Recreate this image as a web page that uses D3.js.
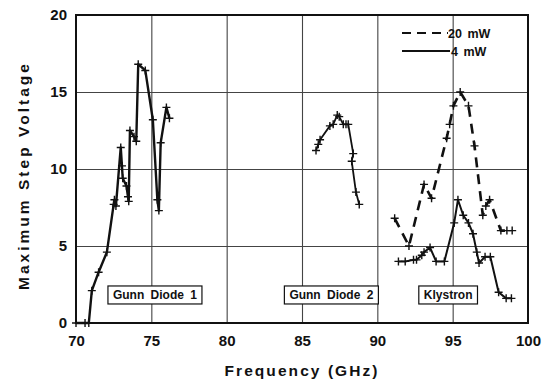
<!DOCTYPE html>
<html>
<head>
<meta charset="utf-8">
<script src="https://cdn.jsdelivr.net/npm/d3@7"></script>
<style>
  body { margin: 0; background: #fff; }
  text { font-family: "Liberation Sans", Arial, sans-serif; fill: #111; }
</style>
</head>
<body>
<svg id="chart"></svg>
<script>
// frequency (GHz), maximum step voltage
const gunn1 = [
  [70.0, 0], [70.6, 0], [70.85, 0], [71.05, 2.1], [71.5, 3.3], [72.05, 4.6],
  [72.5, 7.7], [72.55, 8.0], [72.65, 7.6], [72.97, 11.4], [73.05, 10.2], [73.1, 9.4],
  [73.35, 8.9], [73.45, 8.2], [73.5, 7.9], [73.58, 12.5], [73.85, 12.1], [74.0, 11.8],
  [74.13, 16.8], [74.6, 16.4], [75.1, 13.2], [75.4, 8.0], [75.5, 7.3], [75.62, 11.7],
  [76.0, 14.0], [76.2, 13.3]
];
const gunn2 = [
  [85.93, 11.2], [86.08, 11.6], [86.2, 11.9], [86.85, 12.8], [87.07, 12.9], [87.34, 13.5],
  [87.47, 13.4], [87.74, 12.9], [87.92, 12.9], [88.07, 12.9], [88.4, 11.0], [88.3, 10.5],
  [88.58, 8.5], [88.8, 7.7]
];
const klystron20 = [
  [91.15, 6.8], [92.1, 5.0], [93.1, 9.0], [93.6, 8.1], [94.6, 12.0], [94.8, 12.9],
  [95.05, 14.1], [95.5, 15.0], [96.05, 14.1], [96.45, 11.5], [97.0, 7.0], [97.2, 7.6],
  [97.45, 8.0], [98.2, 6.0], [98.6, 6.0], [98.95, 6.0]
];
const klystron4 = [
  [91.4, 4.0], [91.85, 4.0], [92.4, 4.1], [92.6, 4.1], [92.95, 4.4], [93.1, 4.6],
  [93.5, 4.9], [93.9, 4.0], [94.45, 4.0], [95.1, 6.5], [95.35, 8.0], [95.7, 7.0],
  [96.05, 6.5], [96.35, 5.8], [96.6, 4.6], [96.75, 3.9], [97.15, 4.3], [97.5, 4.3],
  [98.05, 2.0], [98.55, 1.6], [98.9, 1.6]
];
const xTicks = [70, 75, 80, 85, 90, 95, 100];
const yTicks = [0, 5, 10, 15, 20];
const boxLabels = [
  { text: 'Gunn Diode 1', f: 75.24, v: 1.82 },
  { text: 'Gunn Diode 2', f: 86.95, v: 1.82 },
  { text: 'Klystron', f: 94.7, v: 1.82 }
];
const legendItems = ['20 mW', '4 mW'];

const width = 545, height = 381;
const margin = { top: 15, right: 17, bottom: 58, left: 76 };

const svg = d3.select('#chart').attr('width', width).attr('height', height);

const x = d3.scaleLinear([70, 100], [margin.left, width - margin.right]);
const y = d3.scaleLinear([0, 20], [height - margin.bottom, margin.top]);
const plotW = width - margin.left - margin.right;
const plotH = height - margin.top - margin.bottom;

// grid
svg.append('g')
  .attr('transform', `translate(0,${height - margin.bottom})`)
  .call(d3.axisBottom(x).tickValues(xTicks.slice(1, -1)).tickSize(-plotH).tickFormat(''))
  .call((g) => g.select('.domain').remove())
  .call((g) => g.selectAll('.tick line').attr('stroke', '#444').attr('stroke-width', 1.1));
svg.append('g')
  .attr('transform', `translate(${margin.left},0)`)
  .call(d3.axisLeft(y).tickValues(yTicks.slice(1, -1)).tickSize(-plotW).tickFormat(''))
  .call((g) => g.select('.domain').remove())
  .call((g) => g.selectAll('.tick line').attr('stroke', '#444').attr('stroke-width', 1.1));

// frame
svg.append('rect')
  .attr('x', margin.left).attr('y', margin.top)
  .attr('width', plotW).attr('height', plotH)
  .attr('fill', 'none').attr('stroke', '#111').attr('stroke-width', 2);

// tick labels
const styleTicks = (g) => g.selectAll('text')
  .attr('font-size', 15).attr('font-weight', 'bold').attr('fill', '#111')
  .style('font-family', '"Liberation Sans", Arial, sans-serif');
svg.append('g')
  .attr('transform', `translate(0,${height - margin.bottom})`)
  .call(d3.axisBottom(x).tickValues(xTicks).tickSize(0).tickPadding(12))
  .call((g) => g.select('.domain').remove())
  .call(styleTicks);
svg.append('g')
  .attr('transform', `translate(${margin.left},0)`)
  .call(d3.axisLeft(y).tickValues(yTicks).tickSize(0).tickPadding(9))
  .call((g) => g.select('.domain').remove())
  .call(styleTicks);

// axis titles
svg.append('text')
  .attr('x', 301).attr('y', 376)
  .attr('text-anchor', 'middle').attr('font-size', 15.5).attr('font-weight', 'bold')
  .attr('textLength', 153).attr('lengthAdjust', 'spacing')
  .text('Frequency (GHz)');
svg.append('text')
  .attr('transform', 'translate(29,177) rotate(-90)')
  .attr('text-anchor', 'middle').attr('font-size', 15.5).attr('font-weight', 'bold')
  .attr('textLength', 226).attr('lengthAdjust', 'spacing')
  .text('Maximum Step Voltage');

// series
const line = d3.line().x((d) => x(d[0])).y((d) => y(d[1]));
const series = [
  { data: gunn1, width: 2.4, dash: null },
  { data: gunn2, width: 1.8, dash: null },
  { data: klystron20, width: 2.6, dash: '10 7' },
  { data: klystron4, width: 2, dash: null }
];
series.forEach((s) => {
  svg.append('path')
    .attr('d', line(s.data))
    .attr('fill', 'none')
    .attr('stroke', '#111')
    .attr('stroke-width', s.width)
    .attr('stroke-dasharray', s.dash)
    .attr('stroke-linejoin', 'round');
  svg.append('g')
    .selectAll('path')
    .data(s.data)
    .join('path')
    .attr('d', (d) => `M${x(d[0]) - 4},${y(d[1])}h8M${x(d[0])},${y(d[1]) - 4}v8`)
    .attr('stroke', '#111')
    .attr('stroke-width', 1.4);
});

// labelled boxes
boxLabels.forEach((b) => {
  const g = svg.append('g').attr('transform', `translate(${x(b.f)},${y(b.v)})`);
  const t = g.append('text')
    .attr('text-anchor', 'middle').attr('dy', '0.36em')
    .attr('font-size', 12).attr('font-weight', 'bold').attr('word-spacing', 3)
    .text(b.text);
  const w = t.node().getComputedTextLength() + 10;
  g.insert('rect', 'text')
    .attr('x', -w / 2).attr('y', -9).attr('width', w).attr('height', 18)
    .attr('fill', '#fff').attr('stroke', '#111').attr('stroke-width', 1.2);
});

// legend
const legend = svg.append('g').attr('transform', 'translate(402,33)');
legendItems.forEach((name, i) => {
  legend.append('line')
    .attr('x1', 0).attr('x2', i === 0 ? 46 : 48)
    .attr('y1', i * 18).attr('y2', i * 18)
    .attr('stroke', '#111').attr('stroke-width', 2)
    .attr('stroke-dasharray', i === 0 ? '9 6' : null);
  legend.append('text')
    .attr('x', i === 0 ? 46 : 49).attr('y', i * 18).attr('dy', '0.36em')
    .attr('font-size', 12.5).attr('font-weight', 'bold').attr('word-spacing', 2)
    .text(name);
});
</script>
</body>
</html>
